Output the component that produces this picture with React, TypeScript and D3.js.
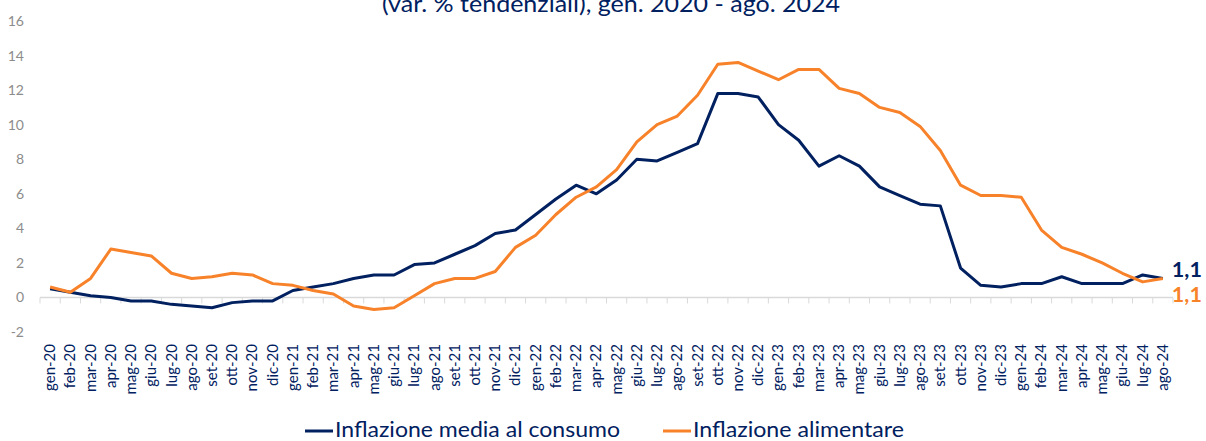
import React, { useEffect, useRef } from 'react';
import * as d3 from 'd3';

const months = ['gen', 'feb', 'mar', 'apr', 'mag', 'giu', 'lug', 'ago', 'set', 'ott', 'nov', 'dic'];
const years = ['20', '21', '22', '23', '24'];
const categories: string[] = years
  .flatMap(y => months.map(m => `${m}-${y}`))
  .slice(0, 56); // gen-20 .. ago-24

const mediaConsumo = [
  0.5, 0.3, 0.1, 0.0, -0.2, -0.2, -0.4, -0.5, -0.6, -0.3, -0.2, -0.2,
  0.4, 0.6, 0.8, 1.1, 1.3, 1.3, 1.9, 2.0, 2.5, 3.0, 3.7, 3.9,
  4.8, 5.7, 6.5, 6.0, 6.8, 8.0, 7.9, 8.4, 8.9, 11.8, 11.8, 11.6,
  10.0, 9.1, 7.6, 8.2, 7.6, 6.4, 5.9, 5.4, 5.3, 1.7, 0.7, 0.6,
  0.8, 0.8, 1.2, 0.8, 0.8, 0.8, 1.3, 1.1,
];

const alimentare = [
  0.6, 0.3, 1.1, 2.8, 2.6, 2.4, 1.4, 1.1, 1.2, 1.4, 1.3, 0.8,
  0.7, 0.4, 0.2, -0.5, -0.7, -0.6, 0.1, 0.8, 1.1, 1.1, 1.5, 2.9,
  3.6, 4.8, 5.8, 6.4, 7.4, 9.0, 10.0, 10.5, 11.7, 13.5, 13.6, 13.1,
  12.6, 13.2, 13.2, 12.1, 11.8, 11.0, 10.7, 9.9, 8.5, 6.5, 5.9, 5.9,
  5.8, 3.9, 2.9, 2.5, 2.0, 1.4, 0.9, 1.1,
];

const yTicks = [-2, 0, 2, 4, 6, 8, 10, 12, 14, 16];

const seriesList = [
  { name: 'Inflazione media al consumo', values: mediaConsumo, color: '#002060' },
  { name: 'Inflazione alimentare', values: alimentare, color: '#F7822A' },
];

const title = '(var. % tendenziali), gen. 2020 - ago. 2024';
const FONT = 'Lato, "Noto Sans", sans-serif';

const App: React.FC = () => {
  const svgRef = useRef<SVGSVGElement>(null);

  useEffect(() => {
    if (!svgRef.current) return;
    const svg = d3.select(svgRef.current);
    svg.selectAll('*').remove();

    const x = d3.scaleBand<string>().domain(categories).range([40, 1173]);
    const y = d3.scaleLinear().domain([-2, 16]).range([332, 21]);
    const cx = (c: string) => (x(c) || 0) + x.bandwidth() / 2;

    // title (cut off at top, as in the original)
    svg.append('text')
      .attr('x', 382)
      .attr('y', 12)
      .attr('font-family', FONT)
      .attr('font-size', 23)
      .attr('fill', '#002060')
      .attr('textLength', 458)
      .attr('lengthAdjust', 'spacingAndGlyphs')
      .text(title);

    // y axis labels
    svg.append('g')
      .selectAll('text')
      .data(yTicks)
      .enter()
      .append('text')
      .attr('x', 24)
      .attr('y', d => y(d) + 5)
      .attr('text-anchor', 'end')
      .attr('font-family', FONT)
      .attr('font-size', 14)
      .attr('fill', '#8c8c8c')
      .text(d => d);

    // zero axis with tick marks below
    const axis = svg.append('g').attr('transform', `translate(0,${y(0)})`);
    axis.append('line')
      .attr('x1', 40).attr('x2', 1173)
      .attr('stroke', '#d9d9d9').attr('stroke-width', 1.5);
    axis.selectAll('.tk')
      .data([...categories.map(c => x(c) || 0), 1173])
      .enter()
      .append('line')
      .attr('x1', d => d).attr('x2', d => d)
      .attr('y1', 0).attr('y2', 6)
      .attr('stroke', '#d9d9d9').attr('stroke-width', 1);

    // x labels, rotated
    svg.append('g')
      .selectAll('text')
      .data(categories)
      .enter()
      .append('text')
      .attr('transform', d => `translate(${cx(d) + 5},344) rotate(-90)`)
      .attr('text-anchor', 'end')
      .attr('font-family', FONT)
      .attr('font-size', 15)
      .attr('fill', '#002060')
      .text(d => d);

    const line = d3.line<number>()
      .x((_, i) => cx(categories[i]))
      .y(d => y(d));

    seriesList.forEach(s => {
      svg.append('path')
        .datum(s.values)
        .attr('d', line)
        .attr('fill', 'none')
        .attr('stroke', s.color)
        .attr('stroke-width', 3)
        .attr('stroke-linejoin', 'round');
    });

    // end labels
    const fmt = (v: number) => v.toFixed(1).replace('.', ',');
    const lastCat = categories[categories.length - 1];
    [
      { s: seriesList[0], base: 277 },
      { s: seriesList[1], base: 301.5 },
    ].forEach(({ s, base }) => {
      const v = s.values[s.values.length - 1];
      svg.append('text')
        .attr('x', cx(lastCat) + 9)
        .attr('y', base)
        .attr('font-family', FONT)
        .attr('font-size', 21)
        .attr('font-weight', 'bold')
        .attr('fill', s.color)
        .attr('textLength', 30)
        .attr('lengthAdjust', 'spacingAndGlyphs')
        .text(fmt(v));
    });

    // legend
    const legend = [
      { x: 305, w: 285 },
      { x: 663, w: 211 },
    ];
    seriesList.forEach((s, i) => {
      const g = svg.append('g').attr('transform', `translate(${legend[i].x},431)`);
      g.append('line')
        .attr('x1', 0).attr('x2', 28)
        .attr('stroke', s.color).attr('stroke-width', 3);
      g.append('text')
        .attr('x', 30)
        .attr('y', 6)
        .attr('font-family', FONT)
        .attr('font-size', 22)
        .attr('fill', '#002060')
        .attr('textLength', legend[i].w)
        .attr('lengthAdjust', 'spacingAndGlyphs')
        .text(s.name);
    });
  }, []);

  return (
    <div style={{ position: 'fixed', left: 0, top: 0, width: 1206, height: 441, background: '#fff', overflow: 'hidden' }}>
      <svg ref={svgRef} width={1206} height={441} style={{ display: 'block' }} />
    </div>
  );
};

export default App;
